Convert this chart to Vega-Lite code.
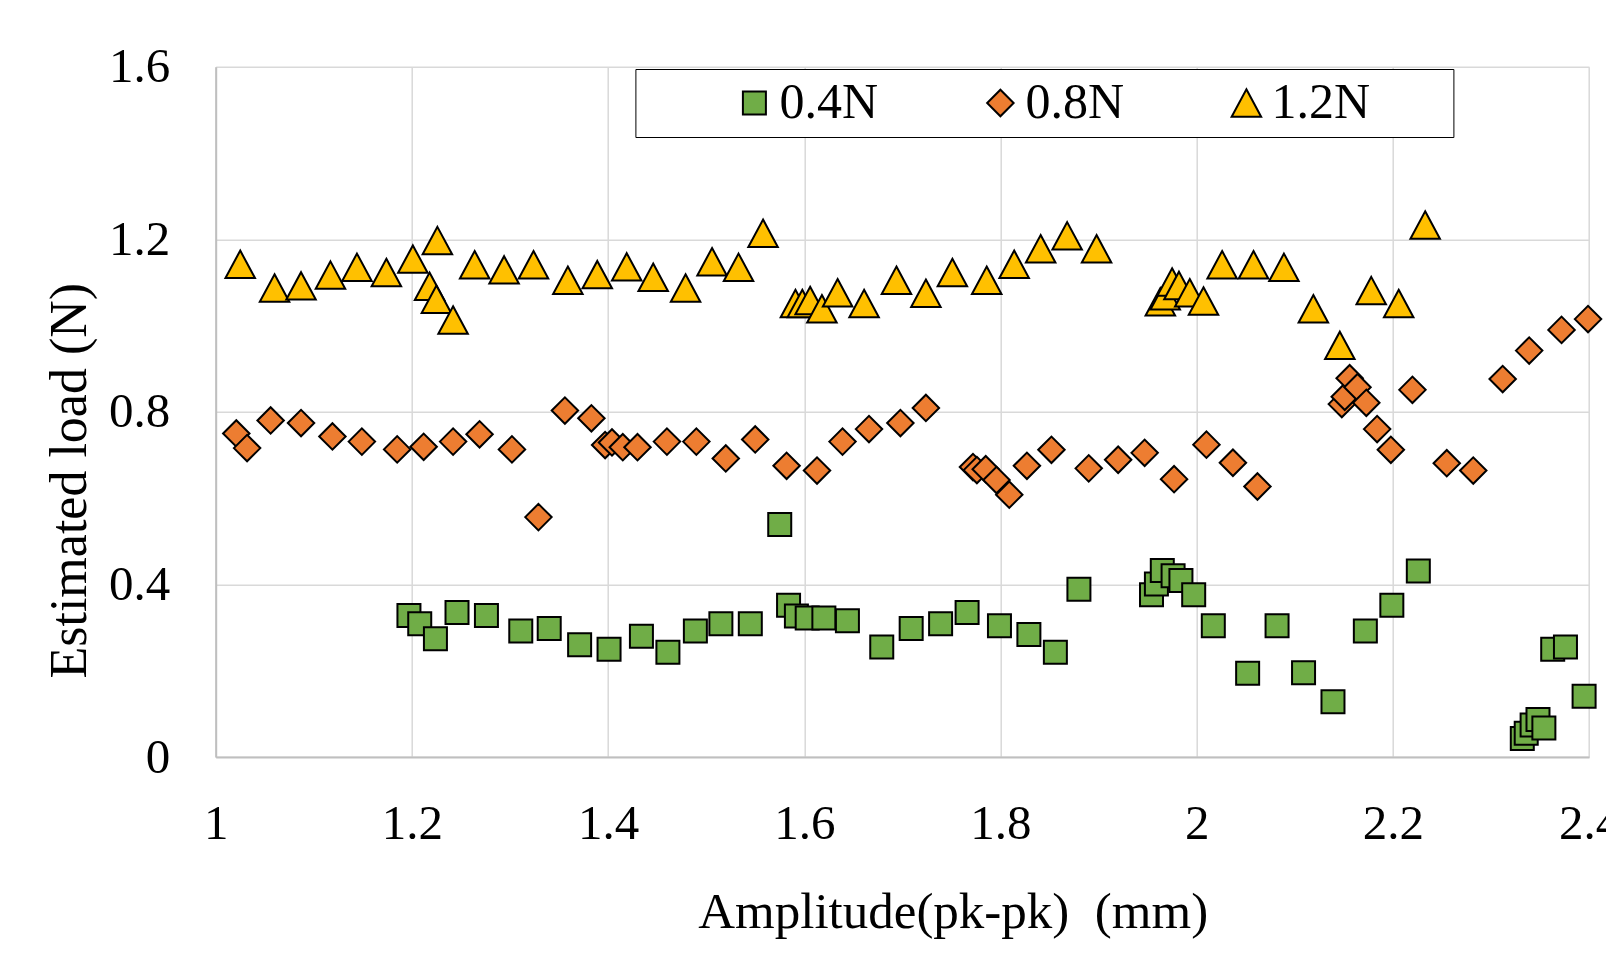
{
  "$schema": "https://vega.github.io/schema/vega-lite/v6.json",
  "width": 1373.3,
  "height": 690.3,
  "autosize": {"type": "none"},
  "padding": {"left": 215.7, "top": 66.7, "right": 17, "bottom": 198},
  "background": "white",
  "config": {
    "view": {"stroke": null},
    "font": "Liberation Serif",
    "legend": {
      "orient": "none", "legendX": 419.7, "legendY": 2.3, "direction": "horizontal",
      "titleOrient": "left", "titleFontSize": 36, "titlePadding": 7, "titleColor": "white",
      "labelFont": "Liberation Serif", "labelFontSize": 50, "labelColor": "black", "labelOffset": 0, "labelLimit": 500,
      "columnPadding": 23, "padding": 9, "strokeColor": "black", "fillColor": "white",
      "symbolStrokeColor": "black", "symbolStrokeWidth": 2, "symbolOpacity": 1
    }
  },
  "data": {"values": [
    {"load":"0.4N","amplitude":1.197,"est":0.328},
    {"load":"0.4N","amplitude":1.208,"est":0.309},
    {"load":"0.4N","amplitude":1.224,"est":0.274},
    {"load":"0.4N","amplitude":1.246,"est":0.335},
    {"load":"0.4N","amplitude":1.276,"est":0.328},
    {"load":"0.4N","amplitude":1.311,"est":0.292},
    {"load":"0.4N","amplitude":1.340,"est":0.298},
    {"load":"0.4N","amplitude":1.371,"est":0.260},
    {"load":"0.4N","amplitude":1.401,"est":0.250},
    {"load":"0.4N","amplitude":1.434,"est":0.280},
    {"load":"0.4N","amplitude":1.461,"est":0.243},
    {"load":"0.4N","amplitude":1.489,"est":0.292},
    {"load":"0.4N","amplitude":1.515,"est":0.309},
    {"load":"0.4N","amplitude":1.545,"est":0.309},
    {"load":"0.4N","amplitude":1.575,"est":0.539},
    {"load":"0.4N","amplitude":1.584,"est":0.352},
    {"load":"0.4N","amplitude":1.592,"est":0.327},
    {"load":"0.4N","amplitude":1.603,"est":0.322},
    {"load":"0.4N","amplitude":1.620,"est":0.322},
    {"load":"0.4N","amplitude":1.644,"est":0.316},
    {"load":"0.4N","amplitude":1.679,"est":0.255},
    {"load":"0.4N","amplitude":1.709,"est":0.298},
    {"load":"0.4N","amplitude":1.739,"est":0.309},
    {"load":"0.4N","amplitude":1.766,"est":0.335},
    {"load":"0.4N","amplitude":1.799,"est":0.304},
    {"load":"0.4N","amplitude":1.829,"est":0.284},
    {"load":"0.4N","amplitude":1.856,"est":0.243},
    {"load":"0.4N","amplitude":1.880,"est":0.389},
    {"load":"0.4N","amplitude":1.954,"est":0.376},
    {"load":"0.4N","amplitude":1.959,"est":0.401},
    {"load":"0.4N","amplitude":1.965,"est":0.432},
    {"load":"0.4N","amplitude":1.976,"est":0.420},
    {"load":"0.4N","amplitude":1.984,"est":0.409},
    {"load":"0.4N","amplitude":1.997,"est":0.376},
    {"load":"0.4N","amplitude":2.017,"est":0.304},
    {"load":"0.4N","amplitude":2.052,"est":0.194},
    {"load":"0.4N","amplitude":2.082,"est":0.304},
    {"load":"0.4N","amplitude":2.109,"est":0.195},
    {"load":"0.4N","amplitude":2.139,"est":0.128},
    {"load":"0.4N","amplitude":2.172,"est":0.292},
    {"load":"0.4N","amplitude":2.199,"est":0.352},
    {"load":"0.4N","amplitude":2.226,"est":0.431},
    {"load":"0.4N","amplitude":2.332,"est":0.043},
    {"load":"0.4N","amplitude":2.336,"est":0.055},
    {"load":"0.4N","amplitude":2.342,"est":0.074},
    {"load":"0.4N","amplitude":2.348,"est":0.087},
    {"load":"0.4N","amplitude":2.354,"est":0.067},
    {"load":"0.4N","amplitude":2.363,"est":0.250},
    {"load":"0.4N","amplitude":2.376,"est":0.255},
    {"load":"0.4N","amplitude":2.395,"est":0.141},
    {"load":"0.8N","amplitude":1.021,"est":0.750},
    {"load":"0.8N","amplitude":1.032,"est":0.716},
    {"load":"0.8N","amplitude":1.056,"est":0.780},
    {"load":"0.8N","amplitude":1.087,"est":0.774},
    {"load":"0.8N","amplitude":1.119,"est":0.743},
    {"load":"0.8N","amplitude":1.149,"est":0.731},
    {"load":"0.8N","amplitude":1.185,"est":0.713},
    {"load":"0.8N","amplitude":1.212,"est":0.719},
    {"load":"0.8N","amplitude":1.242,"est":0.731},
    {"load":"0.8N","amplitude":1.269,"est":0.748},
    {"load":"0.8N","amplitude":1.302,"est":0.713},
    {"load":"0.8N","amplitude":1.329,"est":0.556},
    {"load":"0.8N","amplitude":1.356,"est":0.803},
    {"load":"0.8N","amplitude":1.383,"est":0.785},
    {"load":"0.8N","amplitude":1.397,"est":0.723},
    {"load":"0.8N","amplitude":1.404,"est":0.729},
    {"load":"0.8N","amplitude":1.415,"est":0.718},
    {"load":"0.8N","amplitude":1.430,"est":0.718},
    {"load":"0.8N","amplitude":1.460,"est":0.731},
    {"load":"0.8N","amplitude":1.490,"est":0.731},
    {"load":"0.8N","amplitude":1.520,"est":0.692},
    {"load":"0.8N","amplitude":1.550,"est":0.736},
    {"load":"0.8N","amplitude":1.582,"est":0.675},
    {"load":"0.8N","amplitude":1.613,"est":0.664},
    {"load":"0.8N","amplitude":1.639,"est":0.731},
    {"load":"0.8N","amplitude":1.666,"est":0.760},
    {"load":"0.8N","amplitude":1.698,"est":0.774},
    {"load":"0.8N","amplitude":1.724,"est":0.809},
    {"load":"0.8N","amplitude":1.772,"est":0.672},
    {"load":"0.8N","amplitude":1.776,"est":0.665},
    {"load":"0.8N","amplitude":1.785,"est":0.667},
    {"load":"0.8N","amplitude":1.796,"est":0.642},
    {"load":"0.8N","amplitude":1.809,"est":0.608},
    {"load":"0.8N","amplitude":1.827,"est":0.675},
    {"load":"0.8N","amplitude":1.852,"est":0.712},
    {"load":"0.8N","amplitude":1.890,"est":0.669},
    {"load":"0.8N","amplitude":1.920,"est":0.689},
    {"load":"0.8N","amplitude":1.947,"est":0.705},
    {"load":"0.8N","amplitude":1.977,"est":0.644},
    {"load":"0.8N","amplitude":2.010,"est":0.724},
    {"load":"0.8N","amplitude":2.037,"est":0.682},
    {"load":"0.8N","amplitude":2.062,"est":0.627},
    {"load":"0.8N","amplitude":2.148,"est":0.818},
    {"load":"0.8N","amplitude":2.151,"est":0.835},
    {"load":"0.8N","amplitude":2.156,"est":0.878},
    {"load":"0.8N","amplitude":2.164,"est":0.857},
    {"load":"0.8N","amplitude":2.173,"est":0.821},
    {"load":"0.8N","amplitude":2.184,"est":0.760},
    {"load":"0.8N","amplitude":2.198,"est":0.712},
    {"load":"0.8N","amplitude":2.220,"est":0.851},
    {"load":"0.8N","amplitude":2.255,"est":0.681},
    {"load":"0.8N","amplitude":2.282,"est":0.664},
    {"load":"0.8N","amplitude":2.312,"est":0.876},
    {"load":"0.8N","amplitude":2.339,"est":0.942},
    {"load":"0.8N","amplitude":2.372,"est":0.990},
    {"load":"0.8N","amplitude":2.399,"est":1.015},
    {"load":"1.2N","amplitude":1.025,"est":1.142},
    {"load":"1.2N","amplitude":1.060,"est":1.087},
    {"load":"1.2N","amplitude":1.087,"est":1.092},
    {"load":"1.2N","amplitude":1.117,"est":1.117},
    {"load":"1.2N","amplitude":1.144,"est":1.135},
    {"load":"1.2N","amplitude":1.174,"est":1.123},
    {"load":"1.2N","amplitude":1.201,"est":1.154},
    {"load":"1.2N","amplitude":1.218,"est":1.091},
    {"load":"1.2N","amplitude":1.226,"est":1.197},
    {"load":"1.2N","amplitude":1.225,"est":1.061},
    {"load":"1.2N","amplitude":1.242,"est":1.013},
    {"load":"1.2N","amplitude":1.264,"est":1.141},
    {"load":"1.2N","amplitude":1.294,"est":1.129},
    {"load":"1.2N","amplitude":1.324,"est":1.141},
    {"load":"1.2N","amplitude":1.359,"est":1.105},
    {"load":"1.2N","amplitude":1.389,"est":1.118},
    {"load":"1.2N","amplitude":1.419,"est":1.136},
    {"load":"1.2N","amplitude":1.446,"est":1.112},
    {"load":"1.2N","amplitude":1.479,"est":1.087},
    {"load":"1.2N","amplitude":1.506,"est":1.148},
    {"load":"1.2N","amplitude":1.533,"est":1.135},
    {"load":"1.2N","amplitude":1.558,"est":1.214},
    {"load":"1.2N","amplitude":1.591,"est":1.051},
    {"load":"1.2N","amplitude":1.598,"est":1.051},
    {"load":"1.2N","amplitude":1.606,"est":1.058},
    {"load":"1.2N","amplitude":1.618,"est":1.039},
    {"load":"1.2N","amplitude":1.634,"est":1.076},
    {"load":"1.2N","amplitude":1.661,"est":1.051},
    {"load":"1.2N","amplitude":1.694,"est":1.105},
    {"load":"1.2N","amplitude":1.724,"est":1.075},
    {"load":"1.2N","amplitude":1.751,"est":1.123},
    {"load":"1.2N","amplitude":1.786,"est":1.105},
    {"load":"1.2N","amplitude":1.814,"est":1.142},
    {"load":"1.2N","amplitude":1.841,"est":1.178},
    {"load":"1.2N","amplitude":1.868,"est":1.208},
    {"load":"1.2N","amplitude":1.898,"est":1.178},
    {"load":"1.2N","amplitude":1.963,"est":1.055},
    {"load":"1.2N","amplitude":1.968,"est":1.069},
    {"load":"1.2N","amplitude":1.975,"est":1.101},
    {"load":"1.2N","amplitude":1.982,"est":1.093},
    {"load":"1.2N","amplitude":1.993,"est":1.076},
    {"load":"1.2N","amplitude":2.007,"est":1.057},
    {"load":"1.2N","amplitude":2.026,"est":1.141},
    {"load":"1.2N","amplitude":2.058,"est":1.141},
    {"load":"1.2N","amplitude":2.089,"est":1.135},
    {"load":"1.2N","amplitude":2.119,"est":1.039},
    {"load":"1.2N","amplitude":2.146,"est":0.954},
    {"load":"1.2N","amplitude":2.178,"est":1.081},
    {"load":"1.2N","amplitude":2.206,"est":1.051},
    {"load":"1.2N","amplitude":2.233,"est":1.233}
  ]},
  "mark": {"type": "point", "filled": true, "stroke": "black", "strokeWidth": 2, "opacity": 1},
  "encoding": {
    "x": {
      "field": "amplitude", "type": "quantitative",
      "scale": {"domain": [1, 2.4], "nice": false, "zero": false},
      "axis": {
        "values": [1, 1.2, 1.4, 1.6, 1.8, 2, 2.2, 2.4], "format": "~g",
        "title": "Amplitude(pk-pk) \u00a0(mm)",
        "ticks": false, "tickSize": 0,
        "labelFont": "Liberation Serif", "labelFontSize": 49, "labelColor": "black",
        "labelBaseline": "alphabetic", "labelPadding": 81, "labelFlush": false, "labelOverlap": false,
        "grid": true, "gridColor": "#d9d9d9", "gridWidth": 1.5,
        "domainColor": "#bfbfbf", "domainWidth": 2,
        "titleFont": "Liberation Serif", "titleFontSize": 51, "titleFontWeight": "normal", "titleColor": "black",
        "titleX": 737, "titleY": 170, "titleBaseline": "alphabetic", "titleAlign": "center"
      }
    },
    "y": {
      "field": "est", "type": "quantitative",
      "scale": {"domain": [0, 1.6], "nice": false},
      "axis": {
        "values": [0, 0.4, 0.8, 1.2, 1.6], "format": "~g",
        "title": "Estimated load (N)",
        "ticks": false, "tickSize": 0,
        "labelFont": "Liberation Serif", "labelFontSize": 49, "labelColor": "black",
        "labelBaseline": "middle", "labelPadding": 46, "labelOverlap": false, "labelFlush": false,
        "grid": true, "gridColor": "#d9d9d9", "gridWidth": 1.5,
        "domainColor": "#bfbfbf", "domainWidth": 2,
        "titleFont": "Liberation Serif", "titleFontSize": 52, "titleFontWeight": "normal", "titleColor": "black",
        "titleAngle": 270, "titleX": -130, "titleY": 413.5, "titleBaseline": "alphabetic", "titleAlign": "center"
      }
    },
    "fill": {
      "field": "load", "type": "nominal",
      "scale": {"domain": ["0.4N", "0.8N", "1.2N"], "range": ["#70AD47", "#ED7D31", "#FFC000"]},
      "legend": {"title": "\u2800\u2800\u2800", "labelExpr": "datum.label + '\u2800\u2800'"}
    },
    "stroke": {
      "field": "load", "type": "nominal",
      "scale": {"domain": ["0.4N", "0.8N", "1.2N"], "range": ["black", "black", "black"]},
      "legend": {"title": "\u2800\u2800\u2800", "labelExpr": "datum.label + '\u2800\u2800'"}
    },
    "shape": {
      "field": "load", "type": "nominal",
      "scale": {"domain": ["0.4N", "0.8N", "1.2N"], "range": ["square", "diamond", "M0,-0.93L1,0.93L-1,0.93Z"]},
      "legend": {"title": "\u2800\u2800\u2800", "labelExpr": "datum.label + '\u2800\u2800'"}
    },
    "size": {
      "field": "load", "type": "nominal",
      "scale": {"domain": ["0.4N", "0.8N", "1.2N"], "range": [529, 870, 961]},
      "legend": {"title": "\u2800\u2800\u2800", "labelExpr": "datum.label + '\u2800\u2800'"}
    }
  }
}
